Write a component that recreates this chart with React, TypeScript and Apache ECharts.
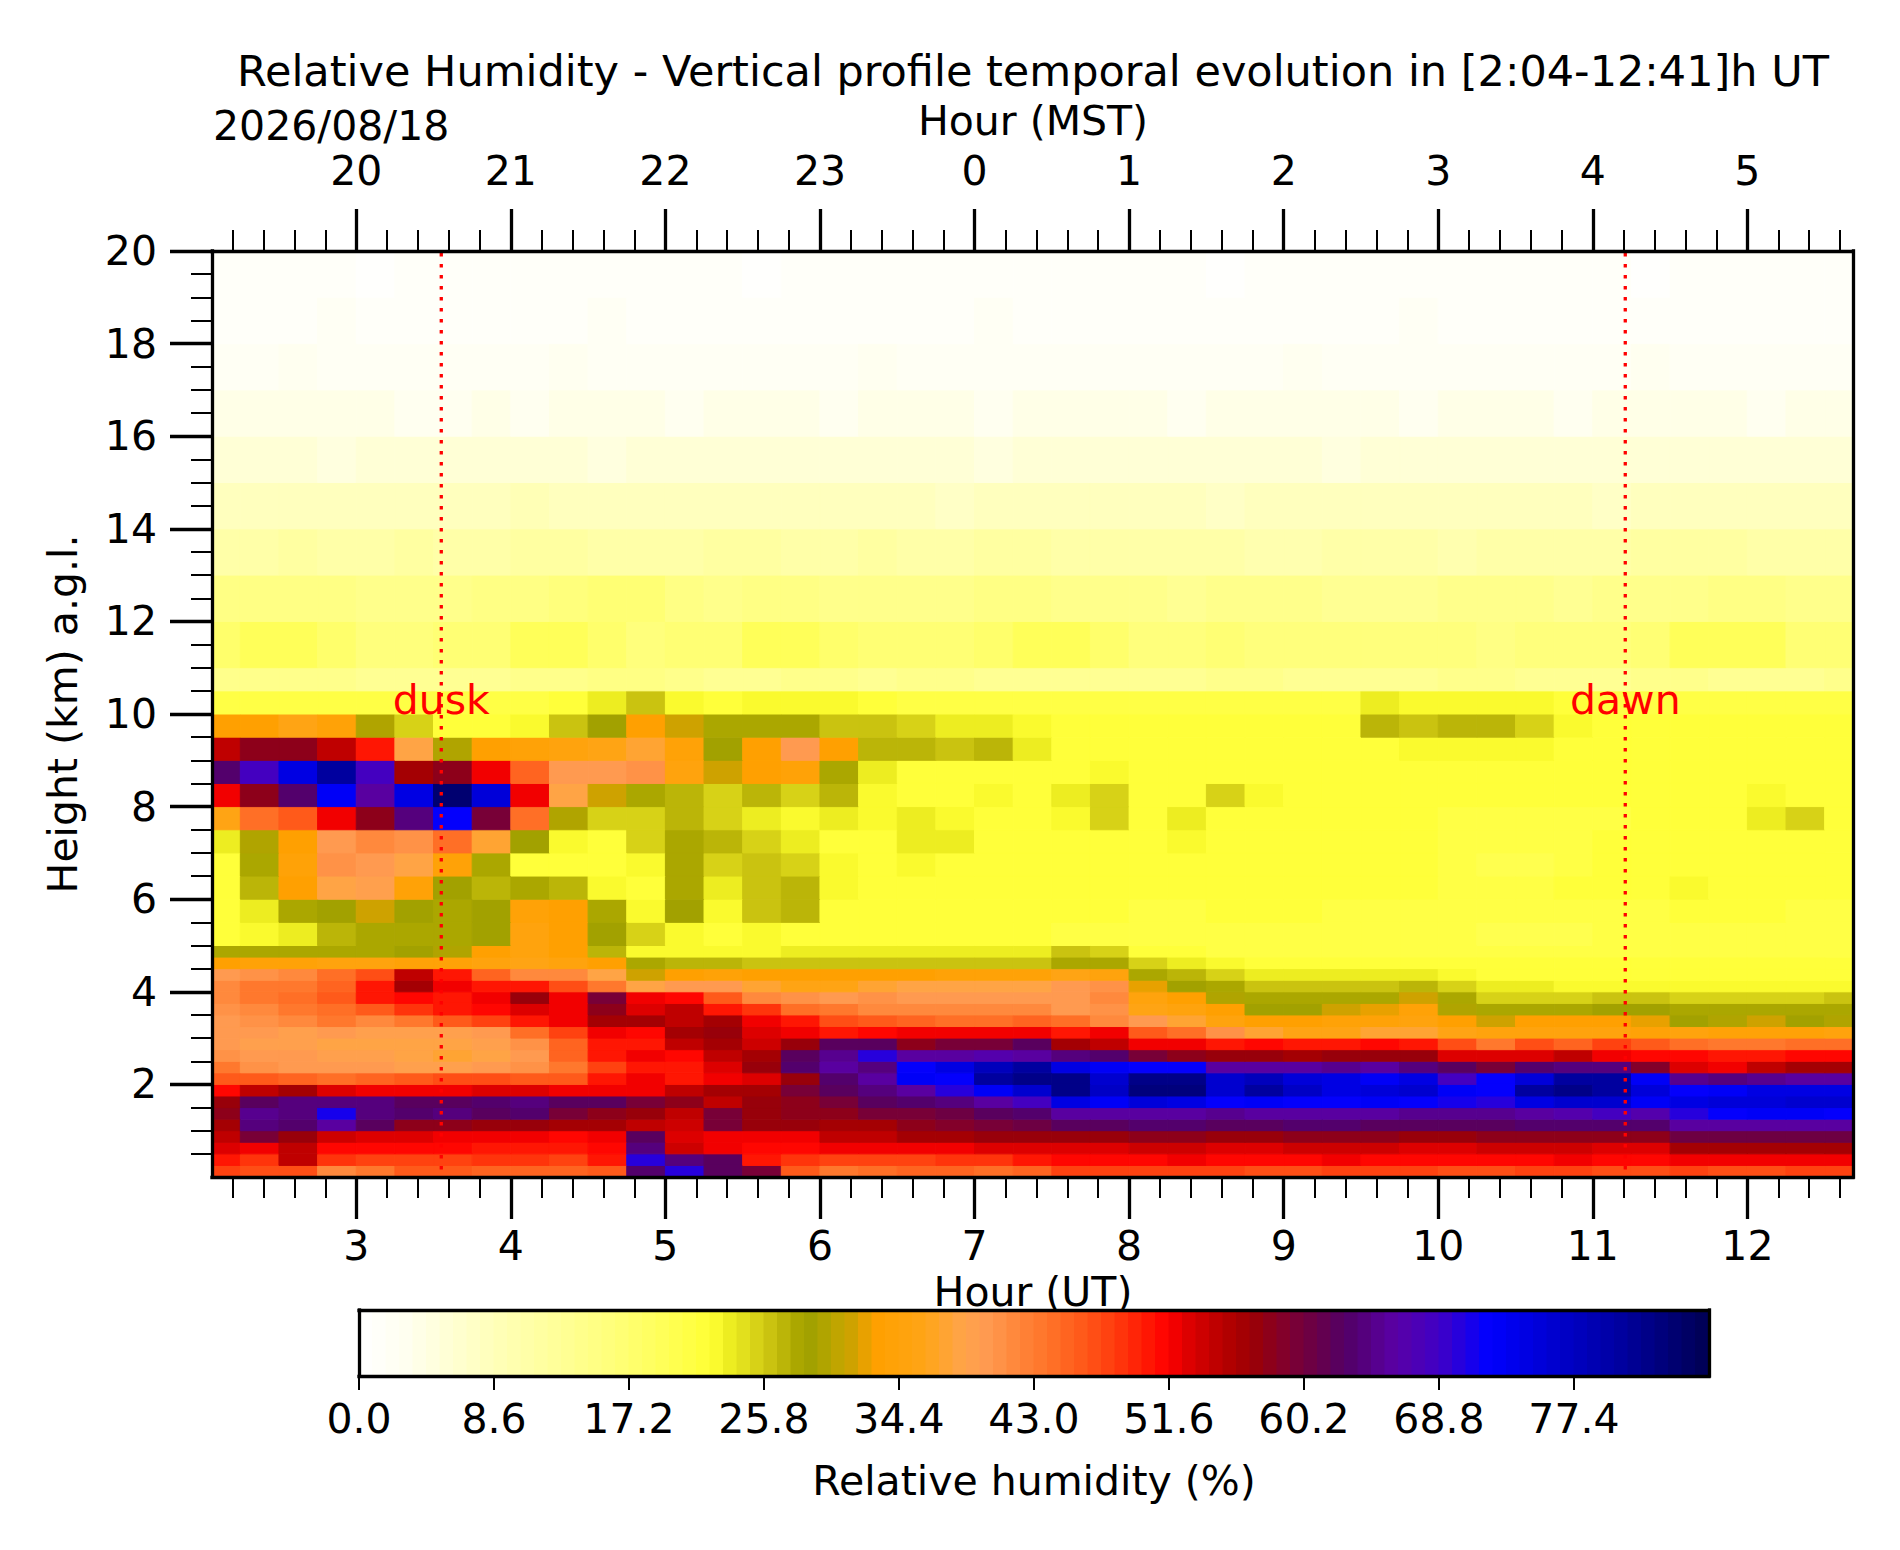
import React, { useEffect, useRef } from "react";
import * as echarts from "echarts";

// ---------------- data ----------------
const TITLE = "Relative Humidity - Vertical profile temporal evolution in [2:04-12:41]h UT";
const DATE_LABEL = "2026/08/18";
const X_MIN = 2.0667; // 2:04 UT
const X_MAX = 12.6833; // 12:41 UT
const Y_MIN = 0;
const Y_MAX = 20;
const CBAR_MAX = 86;

// time cell edges (UT hours)
const TIME_EDGES = [2.0, 2.25, 2.5, 2.75, 3.0, 3.25, 3.5, 3.75, 4.0, 4.25, 4.5, 4.75, 5.0, 5.25, 5.5, 5.75, 6.0, 6.25, 6.5, 6.75, 7.0, 7.25, 7.5, 7.75, 8.0, 8.25, 8.5, 8.75, 9.0, 9.25, 9.5, 9.75, 10.0, 10.25, 10.5, 10.75, 11.0, 11.25, 11.5, 11.75, 12.0, 12.25, 12.5, 12.75];
// height cell edges (km a.g.l.)
const HEIGHT_EDGES = [0, 0.25, 0.5, 0.75, 1, 1.25, 1.5, 1.75, 2, 2.25, 2.5, 2.75, 3, 3.25, 3.5, 3.75, 4, 4.25, 4.5, 4.75, 5, 5.5, 6, 6.5, 7, 7.5, 8, 8.5, 9, 9.5, 10, 10.5, 11, 12, 13, 14, 15, 16, 17, 18, 19, 20];

// relative humidity (%) per height row, one value per time cell
const rh_0_00 = [48,47,47,42,43,46,46,45,45,45,46,63,70,62,60,46,43,44,45,45,44,45, 48,48,48,48,48,47,47,48,48,48,47,47,48,48,47,47,48,47,47,48,48];
const rh_0_25 = [50,49,55,49,48,48,48,49,49,48,50,70,64,62,50,49,48,48,48,49,49,50, 51,51,51,52,51,51,51,52,51,51,51,51,51,52,51,51,52,52,52,52,52];
const rh_0_50 = [53,52,55,51,51,51,51,50,50,50,51,64,54,52,51,51,52,52,52,52,53,53, 53,53,54,54,53,53,54,54,54,53,53,54,54,54,53,53,56,56,56,56,56];
const rh_0_75 = [55,60,57,54,53,53,52,52,52,51,52,62,53,52,52,52,55,55,56,56,57,57, 57,57,58,58,57,57,58,58,58,57,57,58,58,58,58,58,61,61,61,61,61];
const rh_1_00 = [56,64,63,66,62,58,58,57,57,56,56,55,54,60,57,57,56,56,58,59,60,61, 62,62,63,63,62,62,63,63,62,62,62,62,63,63,63,63,66,66,66,66,66];
const rh_1_25 = [58,65,64,71,64,63,64,62,63,60,58,57,55,60,57,58,58,60,60,61,62,63, 66,66,66,66,65,66,66,66,66,65,65,65,66,67,68,67,70,72,73,73,72];
const rh_1_50 = [57,62,64,64,64,62,62,63,64,62,62,60,58,55,57,58,60,62,63,64,66,68, 74,73,75,74,72,73,72,72,73,72,71,70,74,76,76,73,74,75,75,76,76];
const rh_1_75 = [51,55,56,53,52,52,52,53,53,52,52,52,55,56,56,60,62,64,66,70,73,76, 82,77,83,83,76,80,77,74,75,76,73,72,80,82,80,75,72,73,74,74,74];
const rh_2_00 = [46,46,45,44,45,46,47,47,46,46,50,52,50,52,53,57,63,66,73,72,80,82, 82,76,82,82,76,78,75,74,73,74,68,72,75,80,80,73,65,64,65,66,66];
const rh_2_25 = [43,41,40,40,40,39,39,40,41,43,48,50,50,53,57,63,66,64,72,74,78,80, 74,73,72,72,66,66,66,65,66,64,62,60,63,64,64,59,53,52,55,56,56];
const rh_2_50 = [41,40,40,39,39,38,37,38,40,45,50,52,51,55,56,62,65,70,66,66,67,66, 64,63,60,58,57,57,56,57,57,57,53,53,53,55,52,51,51,50,50,51,51];
const rh_2_75 = [40,39,39,38,38,38,38,39,41,45,50,50,55,56,54,57,62,62,58,60,60,62, 56,55,52,52,50,51,50,50,51,50,47,43,47,45,48,46,44,43,43,44,44];
const rh_3_00 = [40,40,39,40,39,39,39,40,44,48,52,51,56,57,53,52,50,51,52,52,52,52, 50,52,46,44,41,37,36,36,37,37,36,35,35,35,35,34,35,34,34,34,35];
const rh_3_25 = [40,41,42,43,42,43,46,48,50,52,56,56,55,56,52,50,47,46,45,44,44,45, 44,42,40,37,35,33,33,34,34,35,33,31,33,33,33,32,29,30,31,29,30];
const rh_3_50 = [41,42,43,44,46,49,50,51,53,52,58,53,55,50,49,44,43,42,42,42,42,42, 40,41,36,35,33,29,29,31,32,34,30,28,28,28,29,29,28,28,28,28,28];
const rh_3_75 = [42,43,44,46,50,51,50,52,57,52,60,52,51,46,42,41,40,41,40,40,40,40, 40,42,35,33,30,28,28,28,28,31,28,25,25,25,26,26,25,25,25,25,26];
const rh_4_00 = [42,43,43,45,50,56,52,50,50,47,43,38,40,40,37,36,36,37,38,38,38,38, 40,41,32,29,28,26,26,26,26,27,25,24,24,23,23,23,23,23,23,23,23];
const rh_4_25 = [40,41,42,44,47,55,50,45,42,42,38,31,33,34,33,33,33,33,33,34,34,34, 36,35,28,27,25,24,24,24,24,24,23,22,22,22,22,22,22,22,22,22,22];
const rh_4_50 = [33,34,34,35,35,34,34,35,36,35,33,28,27,27,26,26,26,26,26,26,26,26, 28,28,25,24,23,22,22,22,22,22,22,22,22,22,22,22,22,22,22,22,22];
const rh_4_75 = [28,28,28,28,28,29,30,33,35,33,27,23,23,23,23,24,24,24,24,24,24,24, 26,25,22,22,21,21,21,21,21,21,21,21,21,21,21,21,21,21,21,21,21];
const rh_5_00 = [22,23,24,27,28,28,28,29,35,33,29,25,23,22,23,22,22,22,22,22,22,22, 21,21,21,21,21,21,21,21,21,21,21,20,20,20,21,21,21,21,21,21,21];
const rh_5_50 = [22,24,28,29,31,29,28,29,34,33,28,23,29,23,26,27,22,22,22,22,22,22, 22,22,21,21,22,22,22,21,21,21,21,21,21,21,21,21,22,22,22,21,21];
const rh_6_00 = [22,27,33,38,39,34,29,27,28,27,23,22,28,24,26,27,23,22,22,22,22,22, 22,22,22,22,22,22,22,22,22,22,21,21,21,22,22,22,23,22,22,22,22];
const rh_6_50 = [22,28,34,41,40,38,34,28,22,22,22,23,28,25,26,25,23,22,23,22,22,22, 22,22,22,22,22,22,22,22,22,22,21,20,20,21,22,22,22,22,22,22,22];
const rh_7_00 = [24,30,33,40,42,41,44,37,29,23,22,25,28,27,25,24,22,22,24,24,22,22, 22,22,22,23,22,22,22,22,22,22,21,21,21,21,22,22,22,22,22,22,22];
const rh_7_50 = [36,44,46,52,58,64,72,60,44,30,25,25,27,25,24,23,24,23,24,23,22,22, 23,25,22,24,22,22,22,22,22,22,21,21,21,21,21,22,22,22,24,25,22];
const rh_8_00 = [52,58,63,73,66,74,84,75,52,38,31,28,27,25,27,25,27,23,22,22,23,22, 24,25,22,22,25,23,22,22,22,22,22,22,22,22,22,22,22,22,23,22,22];
const rh_8_50 = [63,68,74,80,68,56,58,52,45,40,40,41,35,31,33,34,28,24,22,22,22,22, 22,23,22,22,22,22,22,22,22,22,22,22,22,22,22,22,22,22,22,22,22];
const rh_9_00 = [55,58,58,55,50,38,30,33,34,35,36,37,34,29,33,40,33,27,27,26,27,24, 22,22,22,22,22,22,22,22,22,23,23,23,23,22,22,22,22,22,22,22,22];
const rh_9_50 = [33,33,36,34,30,25,22,22,23,26,29,33,31,28,28,28,26,26,25,24,24,23, 22,22,22,22,22,22,22,22,27,26,27,27,25,23,22,22,22,22,22,22,22];
const rh_10_00 = [21,21,21,21,21,21,21,21,21,22,24,26,23,22,23,23,23,22,21,21,21,21, 21,21,21,21,21,21,21,21,24,23,23,23,23,22,21,21,21,21,21,21,21];
const rh_10_50 = [14,14,14,14,13,13,13,13,14,14,15,15,14,13,13,14,14,13,14,14,13,13, 13,13,13,13,14,14,13,13,13,13,14,14,13,13,13,14,14,13,13,13,14];
const rh_11 = [18,19,19,18,16,16,17,17,19,19,18,16,17,17,19,19,18,17,17,17,18,19,19,18,16,16,17,16,16,16,16,16,16,15,16,16,16,17,19,19,19,17,17];
const rh_12 = [15,15,15,15,14,14,14,15,15,16,17,17,15,14,15,15,14,14,14,14,15,15,14,14,14,13,14,14,14,13,13,13,14,14,14,13,14,14,14,15,15,14,14];
const rh_13 = [11,11,12,11,11,12,11,11,12,12,11,11,11,12,12,11,11,12,11,11,12,12,11,11,11,11,11,10,10,11,11,11,10,11,11,11,11,12,12,12,11,11,11];
const rh_14 = [8,8,8,8,8,8,8,8,9,8,8,8,8,8,8,8,8,8,8,7,8,8,8,8,8,8,7,8,8,8,8,8,8,8,8,8,7,8,8,8,8,8,8];
const rh_15 = [6,6,6,5,6,6,6,6,6,6,5,6,6,6,6,6,6,6,6,6,5,6,6,6,6,6,6,6,6,5,6,6,6,6,6,6,6,6,6,6,6,6,6];
const rh_16 = [4,4,4,4,4,3,3,4,3,4,4,4,3,4,4,4,3,4,4,4,3,4,4,4,4,3,4,4,4,4,4,3,4,4,4,3,4,4,4,4,3,4,4];
const rh_17 = [2,2,3,2,2,2,2,2,2,3,2,2,2,2,2,2,2,3,2,2,2,2,2,2,2,2,2,2,3,2,2,2,2,2,2,2,2,3,2,2,2,2,2];
const rh_18 = [1,1,1,2,1,1,1,1,1,1,2,1,1,1,1,1,1,1,1,1,2,1,1,1,1,1,1,1,1,1,1,2,1,1,1,1,1,1,1,1,1,1,1];
const rh_19 = [1,1,1,1,0,1,1,1,1,1,1,1,1,1,0,1,1,1,1,1,1,1,1,1,1,1,0,1,1,1,1,1,1,1,1,1,1,0,1,1,1,1,1];

const RH_ROWS = [rh_0_00, rh_0_25, rh_0_50, rh_0_75, rh_1_00, rh_1_25, rh_1_50, rh_1_75, rh_2_00, rh_2_25, rh_2_50, rh_2_75, rh_3_00, rh_3_25, rh_3_50, rh_3_75, rh_4_00, rh_4_25, rh_4_50, rh_4_75, rh_5_00, rh_5_50, rh_6_00, rh_6_50, rh_7_00, rh_7_50, rh_8_00, rh_8_50, rh_9_00, rh_9_50, rh_10_00, rh_10_50, rh_11, rh_12, rh_13, rh_14, rh_15, rh_16, rh_17, rh_18, rh_19];

// dusk / dawn
const SUN_TIMES = [3.55, 11.21];
const SUN_LABELS = ["dusk", "dawn"];
const SUN_LABEL_KM = 10;

// ticks
const UT_MAJOR = [3, 4, 5, 6, 7, 8, 9, 10, 11, 12];
const Y_MAJOR = [2, 4, 6, 8, 10, 12, 14, 16, 18, 20];
const CBAR_TICKS = [0, 8.6, 17.2, 25.8, 34.4, 43.0, 51.6, 60.2, 68.8, 77.4];

// ---------------- colour map (style) ----------------
const CMAP_STOPS = [0, 3, 6, 9, 13, 17, 20, 22.5, 23.5, 25, 26.5, 28, 29, 30, 31.5, 33, 36, 38.5, 40, 42, 44, 46, 48, 50, 51.5, 53, 55.5, 57, 59, 61, 63, 66, 69, 72, 76, 80, 83, 86];
const CMAP_COLORS = ["#ffffff", "#fffff0", "#ffffd2", "#ffffb6", "#ffff96", "#ffff72", "#ffff52", "#ffff33", "#efef22", "#dcd81a", "#c6be0e", "#aaa600", "#a0a000", "#b8a600", "#d0a200", "#ffa000", "#ffa516", "#ffa44a", "#ff9a50", "#ff863a", "#ff7228", "#ff5a1a", "#ff3e0e", "#ff1c04", "#ff0000", "#da0000", "#b00000", "#9a0006", "#82002c", "#680048", "#520068", "#5a00a4", "#3e00c8", "#0000ff", "#0000d0", "#0000a4", "#00007c", "#000052"];
const N_LEVELS = 100;

function hexToRgb(h: string) {
  return [parseInt(h.slice(1, 3), 16), parseInt(h.slice(3, 5), 16), parseInt(h.slice(5, 7), 16)];
}
function cmap(v: number): string {
  const s = CMAP_STOPS;
  if (v <= s[0]) return CMAP_COLORS[0];
  if (v >= s[s.length - 1]) return CMAP_COLORS[CMAP_COLORS.length - 1];
  let k = 0;
  while (s[k + 1] < v) k++;
  const f = (v - s[k]) / (s[k + 1] - s[k]);
  const a = hexToRgb(CMAP_COLORS[k]);
  const b = hexToRgb(CMAP_COLORS[k + 1]);
  const r = a.map((x, i) => Math.round(x + (b[i] - x) * f));
  return `rgb(${r[0]},${r[1]},${r[2]})`;
}
const LEVEL = CBAR_MAX / N_LEVELS;
function rhColor(v: number): string {
  const k = Math.min(N_LEVELS - 1, Math.max(0, Math.floor(v / LEVEL)));
  return cmap((k + 0.5) * LEVEL);
}

// ---------------- layout (style) ----------------
const FONT = '"DejaVu Sans", "Liberation Sans", sans-serif';
const FS = 41;
const LH = 34;
const GRID = { left: 212, top: 251, width: 1641, height: 926 };
const CBAR = { left: 359, top: 1310, width: 1350, height: 66 };

function buildOption() {
  const cellData: number[][] = [];
  RH_ROWS.forEach((row, r) => {
    row.forEach((v, c) => {
      cellData.push([TIME_EDGES[c], TIME_EDGES[c + 1], HEIGHT_EDGES[r], HEIGHT_EDGES[r + 1], v]);
    });
  });
  const cbarData: number[][] = [];
  for (let k = 0; k < N_LEVELS; k++) cbarData.push([k * LEVEL, (k + 1) * LEVEL]);

  const utMinor: number[] = [];
  for (let k = 11; k <= 63; k++) if (k % 5 !== 0) utMinor.push(Math.round(k * 2) / 10);
  const yMinor: number[] = [];
  for (let k = 1; k <= 39; k++) if (k % 4 !== 0) yMinor.push(k * 0.5);

  const lbl = { fontFamily: FONT, fontSize: FS, color: "#000", lineHeight: LH };
  const spine = { show: true, onZero: false, lineStyle: { color: "#000", width: 3.3, cap: "square" } };
  const noLine = { show: false, onZero: false };
  const majorTick = (vals: number[]) => ({ show: true, inside: false, customValues: vals, length: 42, lineStyle: { color: "#000", width: 3.3 } });
  const minorTick = (vals: number[]) => ({ show: true, inside: false, customValues: vals, length: 21, lineStyle: { color: "#000", width: 2 } });
  const common = { splitLine: { show: false }, z: 10 };
  const txt = (text: string, x: number, y: number, size: number, align = "center", extra: any = {}) => ({
    type: "text",
    x,
    y,
    ...extra,
    style: { text, fontSize: size, fontFamily: FONT, fill: "#000", align, verticalAlign: "middle", lineHeight: LH },
  });

  return {
    animation: false,
    backgroundColor: "#ffffff",
    textStyle: { fontFamily: FONT },
    grid: [
      { ...GRID, show: false, containLabel: false },
      { ...CBAR, show: false, containLabel: false },
    ],
    xAxis: [
      { ...common, gridIndex: 0, type: "value", position: "bottom", min: X_MIN, max: X_MAX, axisLine: spine, axisTick: majorTick(UT_MAJOR), axisLabel: { ...lbl, show: true, customValues: UT_MAJOR, margin: 52, formatter: (v: number) => String(Math.round(v)) } },
      { ...common, gridIndex: 0, type: "value", position: "bottom", min: X_MIN, max: X_MAX, axisLine: noLine, axisTick: minorTick(utMinor), axisLabel: { show: false } },
      { ...common, gridIndex: 0, type: "value", position: "top", min: X_MIN, max: X_MAX, axisLine: spine, axisTick: majorTick(UT_MAJOR), axisLabel: { ...lbl, show: true, customValues: UT_MAJOR, margin: 63, formatter: (v: number) => String((Math.round(v) + 17) % 24) } },
      { ...common, gridIndex: 0, type: "value", position: "top", min: X_MIN, max: X_MAX, axisLine: noLine, axisTick: minorTick(utMinor), axisLabel: { show: false } },
      { ...common, gridIndex: 1, type: "value", position: "bottom", min: 0, max: CBAR_MAX, axisLine: spine, axisTick: { show: true, inside: false, customValues: CBAR_TICKS, length: 14, lineStyle: { color: "#000", width: 2 } }, axisLabel: { ...lbl, show: true, customValues: CBAR_TICKS, margin: 26, formatter: (v: number) => v.toFixed(1) } },
      { ...common, gridIndex: 1, type: "value", position: "top", min: 0, max: CBAR_MAX, axisLine: spine, axisTick: { show: false }, axisLabel: { show: false } },
    ],
    yAxis: [
      { ...common, gridIndex: 0, type: "value", position: "left", min: Y_MIN, max: Y_MAX, axisLine: spine, axisTick: majorTick(Y_MAJOR), axisLabel: { ...lbl, show: true, customValues: Y_MAJOR, margin: 55, formatter: (v: number) => String(Math.round(v)) } },
      { ...common, gridIndex: 0, type: "value", position: "left", min: Y_MIN, max: Y_MAX, axisLine: noLine, axisTick: minorTick(yMinor), axisLabel: { show: false } },
      { ...common, gridIndex: 0, type: "value", position: "right", min: Y_MIN, max: Y_MAX, axisLine: spine, axisTick: { show: false }, axisLabel: { show: false } },
      { ...common, gridIndex: 1, type: "value", position: "left", min: 0, max: 1, axisLine: spine, axisTick: { show: false }, axisLabel: { show: false } },
      { ...common, gridIndex: 1, type: "value", position: "right", min: 0, max: 1, axisLine: spine, axisTick: { show: false }, axisLabel: { show: false } },
    ],
    series: [
      {
        type: "custom",
        name: "rh",
        xAxisIndex: 0,
        yAxisIndex: 0,
        silent: true,
        clip: true,
        progressive: 0,
        z: 1,
        encode: { x: [0, 1], y: [2, 3] },
        data: cellData,
        renderItem: (params: any, api: any) => {
          const t0 = Math.max(api.value(0), X_MIN);
          const t1 = Math.min(api.value(1), X_MAX);
          const a = api.coord([t0, api.value(2)]);
          const b = api.coord([t1, api.value(3)]);
          const col = rhColor(api.value(4));
          return {
            type: "rect",
            shape: { x: a[0], y: b[1], width: b[0] - a[0], height: a[1] - b[1] },
            style: { fill: col, stroke: col, lineWidth: 1 },
          };
        },
      },
      {
        type: "custom",
        name: "sun",
        xAxisIndex: 0,
        yAxisIndex: 0,
        silent: true,
        clip: false,
        z: 5,
        encode: { x: 0, y: 1 },
        data: SUN_TIMES.map((t) => [t, SUN_LABEL_KM]),
        renderItem: (params: any, api: any) => {
          const t = api.value(0);
          const top = api.coord([t, Y_MAX]);
          const bot = api.coord([t, Y_MIN]);
          const lab = api.coord([t, api.value(1)]);
          return {
            type: "group",
            children: [
              { type: "line", shape: { x1: top[0], y1: top[1] + 2, x2: bot[0], y2: bot[1] }, style: { stroke: "#ff0000", lineWidth: 3.3, lineDash: [3.5, 7.5] } },
              { type: "text", x: lab[0], y: lab[1] - 14, style: { text: SUN_LABELS[params.dataIndex], fill: "#ff0000", fontSize: FS, fontFamily: FONT, align: "center", verticalAlign: "middle", lineHeight: LH } },
            ],
          };
        },
      },
      {
        type: "custom",
        name: "colorbar",
        xAxisIndex: 4,
        yAxisIndex: 3,
        silent: true,
        clip: true,
        z: 1,
        encode: { x: [0, 1] },
        data: cbarData,
        renderItem: (params: any, api: any) => {
          const lo = api.value(0);
          const hi = api.value(1);
          const a = api.coord([lo, 0]);
          const b = api.coord([hi, 1]);
          const col = cmap((lo + hi) / 2);
          return {
            type: "rect",
            shape: { x: a[0], y: b[1], width: b[0] - a[0], height: a[1] - b[1] },
            style: { fill: col, stroke: col, lineWidth: 1 },
          };
        },
      },
    ],
    graphic: [
      txt(TITLE, 1033, 71, 43),
      txt("Hour (MST)", 1033, 121, FS),
      txt(DATE_LABEL, 213, 126, FS, "left"),
      txt("Hour (UT)", 1033, 1292, FS),
      txt("Height (km) a.g.l.", 63, 714, FS, "center", { rotation: Math.PI / 2 }),
      txt("Relative humidity (%)", 1034, 1481, FS),
    ],
  };
}

export default function App() {
  const ref = useRef<HTMLDivElement>(null);
  useEffect(() => {
    document.body.style.margin = "0";
    if (!ref.current) return;
    const chart = echarts.init(ref.current, null, { renderer: "svg" });
    chart.setOption(buildOption() as any);
    return () => chart.dispose();
  }, []);
  return <div ref={ref} style={{ width: 1900, height: 1550 }} />;
}
